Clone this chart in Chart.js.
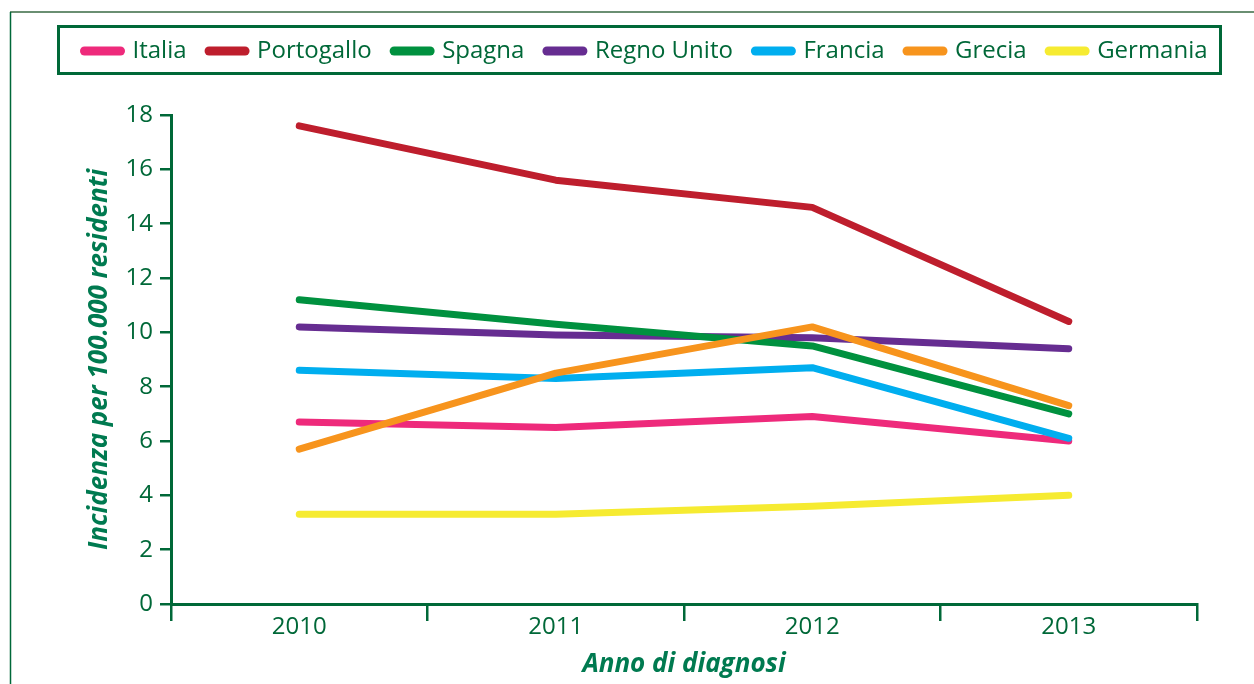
<!DOCTYPE html>
<html>
<head>
<meta charset="utf-8">
<script src="https://cdn.jsdelivr.net/npm/chart.js@4.4.1/dist/chart.umd.min.js"></script>
<style>
    html, body { margin: 0; padding: 0; background: #fff; }
    #wrap { position: relative; width: 1254px; height: 684px; }
</style>
</head>
<body>
<div id="wrap"><canvas id="incidenzaChart"></canvas></div>
<script>
// Dati
const anni = ['2010', '2011', '2012', '2013'];
const italia     = [6.7, 6.5, 6.9, 6.0];
const portogallo = [17.6, 15.6, 14.6, 10.4];
const spagna     = [11.2, 10.3, 9.5, 7.0];
const regnoUnito = [10.2, 9.9, 9.8, 9.4];
const francia    = [8.6, 8.3, 8.7, 6.1];
const grecia     = [5.7, 8.5, 10.2, 7.3];
const germania   = [3.3, 3.3, 3.6, 4.0];

const verde = '#006838';
const verdeTitolo = '#007a50';
const fontFamily = '"Open Sans", "Noto Sans", sans-serif';
const legendPadding = 22.5;

function serie(label, data, color, order) {
    return {
        label: label,
        data: data,
        borderColor: color,
        backgroundColor: color,
        borderWidth: 7,
        borderCapStyle: 'round',
        borderJoinStyle: 'round',
        pointRadius: 0,
        pointHoverRadius: 0,
        tension: 0,
        order: order
    };
}

// cornice esterna e riquadro della legenda
const cornice = {
    id: 'cornice',
    beforeInit(chart) {
        // legenda su una sola riga, con spazio in più sotto
        const fit = chart.legend.fit;
        chart.legend.fit = function() {
            this.maxWidth = 1400;
            fit.call(this);
            this.height += 42;
        };
    },
    afterLayout(chart) {
        // la riga della legenda parte da x = 84.5 come nell'originale
        const legend = chart.legend;
        const lw = legend.lineWidths[0];
        legend.left = 84.5 - legendPadding - 1;
        legend.right = legend.left + legendPadding + lw + 2;
    },
    afterDraw(chart) {
        const ctx = chart.ctx;
        ctx.save();
        ctx.strokeStyle = '#6a8f72';
        ctx.lineWidth = 2;
        ctx.beginPath();
        ctx.moveTo(10, 12);
        ctx.lineTo(1254, 12);
        ctx.stroke();
        ctx.strokeStyle = verde;
        ctx.lineWidth = 1.5;
        ctx.beginPath();
        ctx.moveTo(10.5, 12);
        ctx.lineTo(10.5, 684);
        ctx.stroke();
        ctx.lineWidth = 3;
        ctx.strokeRect(58.5, 26.5, 1162, 47);
        ctx.restore();
    }
};

const ctx = document.getElementById('incidenzaChart').getContext('2d');
new Chart(ctx, {
    type: 'line',
    data: {
        labels: anni,
        datasets: [
            serie('Italia', italia, '#ee2a7b', 6),
            serie('Portogallo', portogallo, '#be1e2d', 5),
            serie('Spagna', spagna, '#00913f', 3),
            serie('Regno Unito', regnoUnito, '#662d91', 4),
            serie('Francia', francia, '#00aeef', 1),
            serie('Grecia', grecia, '#f7941d', 0),
            serie('Germania', germania, '#f6eb31', 2)
        ]
    },
    options: {
        responsive: true,
        maintainAspectRatio: false,
        animation: false,
        layout: {
            padding: { left: 74, right: 57, top: 16.5, bottom: 4 }
        },
        plugins: {
            tooltip: { enabled: false },
            legend: {
                position: 'top',
                labels: {
                    usePointStyle: true,
                    pointStyle: 'line',
                    pointStyleWidth: 36,
                    boxHeight: 9,
                    padding: legendPadding,
                    color: verde,
                    font: { family: fontFamily, size: 24 },
                    sort: (a, b) => a.datasetIndex - b.datasetIndex,
                    generateLabels: (chart) => Chart.defaults.plugins.legend.labels
                        .generateLabels(chart)
                        .map(item => ({ ...item, lineWidth: 9, lineCap: 'round' }))
                }
            }
        },
        scales: {
            x: {
                offset: true,
                grid: {
                    offset: true,
                    drawOnChartArea: false,
                    color: verde,
                    lineWidth: 2.5,
                    tickLength: 17
                },
                border: { color: verde, width: 3 },
                ticks: {
                    color: verde,
                    padding: -8,
                    font: { family: fontFamily, size: 24 }
                },
                title: {
                    display: true,
                    text: 'Anno di diagnosi',
                    color: verdeTitolo,
                    font: { family: fontFamily, size: 26, weight: 'bold', style: 'italic' },
                    padding: { top: 15, bottom: 0 }
                }
            },
            y: {
                min: 0,
                max: 18,
                ticks: {
                    stepSize: 2,
                    color: verde,
                    padding: 7,
                    font: { family: fontFamily, size: 24 }
                },
                grid: {
                    drawOnChartArea: false,
                    color: verde,
                    lineWidth: 2.5,
                    tickLength: 11
                },
                border: { color: verde, width: 3 },
                title: {
                    display: true,
                    text: 'Incidenza per 100.000 residenti',
                    color: verdeTitolo,
                    font: { family: fontFamily, size: 26, weight: 'bold', style: 'italic' },
                    padding: { top: 10, bottom: 0 }
                },
                afterFit(scale) {
                    scale.width = 97;
                }
            }
        }
    },
    plugins: [cornice]
});
</script>
</body>
</html>
